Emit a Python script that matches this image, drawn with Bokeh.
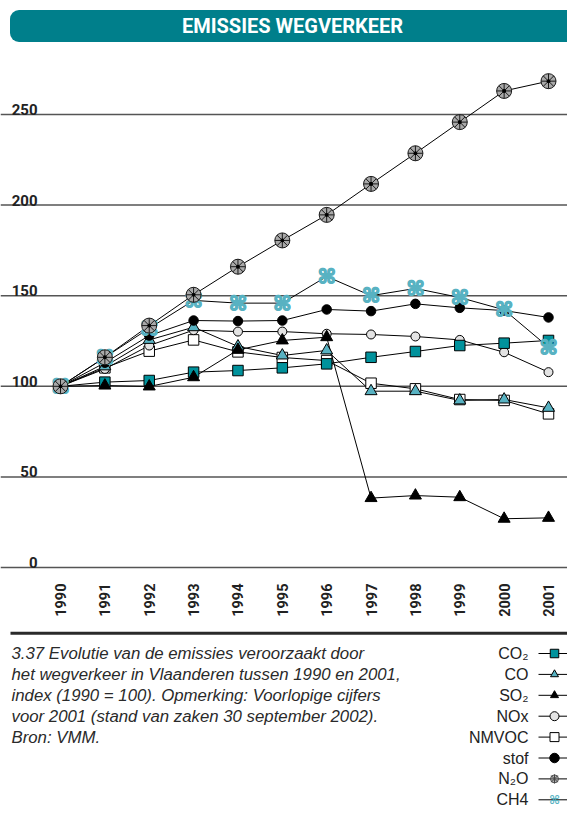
import math
from bokeh.plotting import figure
from bokeh.models import Range1d, Span, Label, BoxAnnotation
from bokeh.core.properties import value
from bokeh.embed import file_html
from bokeh.resources import INLINE

# ---------------- data ----------------
years = [1990, 1991, 1992, 1993, 1994, 1995, 1996, 1997, 1998, 1999, 2000, 2001]
year_labels = [str(y) for y in years]
y_ticks = [0, 50, 100, 150, 200, 250]

co2 = [100, 102.3, 103.2, 107.8, 108.7, 110.2, 112.4, 116.0, 119.2, 122.5, 123.8, 125.3]
co = [100, 111, 125.6, 132.6, 122, 117, 119.8, 97.3, 97.3, 92.2, 92.7, 88.1]
so2 = [100, 100.4, 99.9, 105, 120.1, 125.3, 127.1, 38.3, 39.7, 38.8, 26.9, 27.4]
nox = [100, 109.6, 122.5, 131, 130.2, 130.2, 129, 128.6, 127.5, 125.6, 118.8, 107.8]
nmvoc = [100, 110.2, 119.4, 125.6, 119, 115.9, 114.2, 101.7, 98.6, 92.7, 92.2, 84.8]
stof = [100, 113, 128, 136.3, 136, 136.3, 142.4, 141.5, 145.5, 143.3, 141.8, 138]
n2o = [100, 116, 133.5, 150.5, 166, 180.5, 194.6, 211.7, 228.6, 245.8, 263, 268.4]
ch4 = [100, 116, 132, 147.4, 145.9, 145.9, 160.6, 150, 154, 149, 142.2, 121.6]

legend_labels = ["CO\u2082", "CO", "SO\u2082", "NOx", "NMVOC", "stof", "N\u2082O", "CH4"]
title_text = "EMISSIES WEGVERKEER"
caption_lines = [
    "3.37 Evolutie van de emissies veroorzaakt door",
    "het wegverkeer in Vlaanderen tussen 1990 en 2001,",
    "index (1990 = 100). Opmerking: Voorlopige cijfers",
    "voor 2001 (stand van zaken 30 september 2002).",
    "Bron: VMM.",
]

# ---------------- geometry ----------------
W, H = 567, 819
PX = 488 / 11          # px per year
PY = 453 / 250         # px per index unit
X0 = 1990 - 60 / PX
X1 = X0 + W / PX
Y1 = 567 / PY
Y0 = Y1 - H / PY

def dx(fx):
    return X0 + fx / PX

def dy(fy):
    return Y1 - fy / PY

BOLD = "Roboto"
SANS = "Liberation Sans"
TEAL_BAR = "#007f8b"
TEAL_SQ = "#00929c"
TEAL_LT = "#58b2c2"

p = figure(width=W, height=H, x_range=Range1d(X0, X1), y_range=Range1d(Y0, Y1),
           output_backend="svg", toolbar_location=None, x_axis_type=None,
           y_axis_type=None, min_border=0, outline_line_color=None, title=None)
p.background_fill_color = "white"
p.border_fill_color = "white"

# gridlines + y labels
for v in y_ticks:
    p.add_layout(Span(location=v, dimension="width", line_color="#555555",
                      line_width=1.5, level="underlay"))
    p.add_layout(Label(x=37, x_units="screen", y=v, y_units="data", text=str(v),
                       text_align="right", text_baseline="alphabetic", y_offset=5,
                       text_font=BOLD, text_font_style="bold", text_font_size="15px",
                       text_color="#222222"))

# x labels (rotated)
p.text(x=years, y=0, text=year_labels, angle=math.pi / 2, text_align="right",
       text_baseline="middle", y_offset=16, text_font=value(BOLD),
       text_font_style="bold", text_font_size="14.5px", text_color="#222222")

# title bar
p.add_layout(BoxAnnotation(left=9.5, right=620, top=H - 9.5, bottom=H - 41.5,
                           left_units="screen", right_units="screen",
                           top_units="screen", bottom_units="screen",
                           fill_color=TEAL_BAR, fill_alpha=1, line_color=None,
                           border_radius=9, level="underlay"))
p.add_layout(Label(x=292, y=H - 25.5, x_units="screen", y_units="screen",
                   text=title_text, text_align="center", text_baseline="middle",
                   text_font=BOLD, text_font_style="bold", text_font_size="20px",
                   text_color="white"))

# rule above caption
p.add_layout(BoxAnnotation(left=10, right=620, top=H - 631.2, bottom=H - 634.2,
                           left_units="screen", right_units="screen",
                           top_units="screen", bottom_units="screen",
                           fill_color="#2a2a2a", fill_alpha=1, line_color=None))

ROW0 = 653
ROWH = 20.9
for i, line in enumerate(caption_lines):
    p.add_layout(Label(x=11, y=H - (ROW0 + i * ROWH), x_units="screen", y_units="screen",
                       text=line, text_align="left", text_baseline="middle",
                       text_font=SANS, text_font_style="italic", text_font_size="16.8px",
                       text_color="#2a2a2a"))

# ---------------- series lines ----------------
for s in [nmvoc, nox, co2, co, so2, stof, ch4, n2o]:
    p.line(years, s, line_color="black", line_width=1)

# markers
p.scatter(years, nmvoc, marker="square", size=10.5, fill_color="white", line_color="black", line_width=1)
p.scatter(years, nox, marker="circle", size=9, fill_color="#e3e3e3", line_color="black", line_width=1)
p.scatter(years, co2, marker="square", size=10.5, fill_color=TEAL_SQ, line_color="black", line_width=1)
p.scatter(years, co, marker="triangle", size=12, fill_color=TEAL_LT, line_color="black", line_width=1)
p.scatter(years, so2, marker="triangle", size=12, fill_color="black", line_color="black", line_width=1)
p.scatter(years, stof, marker="circle", size=9.5, fill_color="black", line_color="black", line_width=1)
for ox, oy in [(-0.5, -0.5), (0.5, -0.5), (-0.5, 0.5), (0.5, 0.5)]:
    p.text(years, ch4, text=["\u2318"] * len(years), text_align="center", text_baseline="middle",
           x_offset=ox, y_offset=oy, text_font=value("DejaVu Sans"), text_font_style="bold",
           text_font_size="20px", text_color=TEAL_LT)
p.scatter(years, n2o, marker="circle", size=15, fill_color="#a9a9a9", line_color="#1a1a1a", line_width=1)
p.scatter(years, n2o, marker="asterisk", size=15, line_color="#1a1a1a", line_width=1)
p.scatter(years, n2o, marker="circle", size=3, fill_color="black", line_color="black", line_width=1)

# ---------------- legend ----------------
n = len(legend_labels)
leg_y = [dy(ROW0 + i * ROWH) for i in range(n)]
p.segment(x0=[dx(538)] * n, x1=[dx(W)] * n, y0=leg_y, y1=leg_y, line_color="black", line_width=1)
mx = dx(554)
p.scatter([mx], [leg_y[0]], marker="square", size=8.5, fill_color=TEAL_SQ, line_color="black")
p.scatter([mx], [leg_y[1]], marker="triangle", size=8, fill_color=TEAL_LT, line_color="black")
p.scatter([mx], [leg_y[2]], marker="triangle", size=8, fill_color="black", line_color="black")
p.scatter([mx], [leg_y[3]], marker="circle", size=9, fill_color="#e3e3e3", line_color="black")
p.scatter([mx], [leg_y[4]], marker="square", size=9, fill_color="white", line_color="black")
p.scatter([mx], [leg_y[5]], marker="circle", size=9.5, fill_color="black", line_color="black")
p.scatter([mx], [leg_y[6]], marker="circle", size=8, fill_color="#b5b5b5", line_color="#555555")
p.scatter([mx], [leg_y[6]], marker="asterisk", size=9, line_color="#444444", line_width=1)
p.text([mx], [leg_y[7]], text=["\u2318"], text_align="center", text_baseline="middle",
       text_font=value("DejaVu Sans"), text_font_style="bold", text_font_size="12px",
       text_color=TEAL_LT)
for i, lab in enumerate(legend_labels):
    p.add_layout(Label(x=528, y=H - (ROW0 + i * ROWH), x_units="screen", y_units="screen",
                       text=lab, text_align="right", text_baseline="middle",
                       text_font=SANS, text_font_size="16px", text_color="#222222"))

open("out.html", "w").write(file_html(p, INLINE))
